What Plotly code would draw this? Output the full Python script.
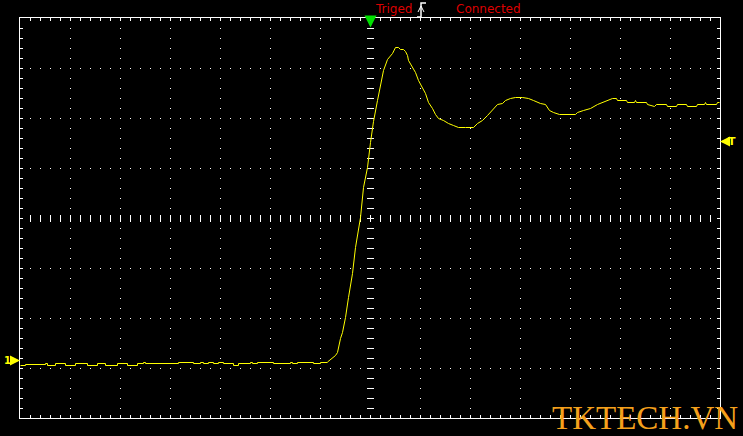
import plotly.graph_objects as go
import numpy as np

# Time in ns (50 ns/div), voltage in mV (50 mV/div); trigger at t=0
base_t = [-350, -345, -325, -323, -315, -305, -295, -283, -273, -265, -253, -243,
          -233, -227, -225, -192, -177, -170, -167, -162, -157, -152, -147, -137,
          -132, -120, -118, -113, -97, -80, -78, -73, -57, -50, -43]
base_v = [-147, -146, -145, -147, -145, -147, -145, -147, -145, -147, -145, -147,
          -145, -144, -145, -144, -145, -144, -145, -144, -145, -144, -145, -147,
          -145, -144, -145, -144, -145, -144, -145, -144, -145, -144, -144]

pulse_t = [-43, -40, -37, -35, -33, -32, -30, -28, -25, -22, -18, -15, -12, -10,
           -7, -3, 0, 3, 7, 10, 13, 17, 22, 25, 28, 30, 33, 35, 37, 38, 42, 45,
           48, 52, 55, 58, 62, 65, 68, 73, 78, 83, 88, 95, 103, 107, 112, 117,
           122, 127, 132, 135, 140, 145, 152, 158, 163, 170, 175, 177, 179, 183,
           189, 205, 207, 213, 220, 227, 232, 237, 242, 246, 247, 256, 257, 264,
           265, 266, 276, 277, 284, 286, 296, 297, 306, 307, 316, 317, 326, 327,
           334, 335, 336, 346, 347, 349]
pulse_v = [-143.5, -141, -139, -137, -134, -129, -120, -114, -99, -79, -55, -29,
           -9, 1, 31, 51, 76, 97, 118, 134, 148, 159, 165, 171, 171, 169, 169,
           167, 163, 158, 151, 146, 138, 131, 125, 116, 110, 104, 100, 98, 95,
           93, 91, 91, 91, 95, 98, 103, 108, 114, 115, 118, 120, 121, 121, 120,
           118, 115, 114, 111, 108, 106, 104, 104, 106, 108, 110, 114, 116, 118,
           120, 120, 118, 118, 116, 116, 118, 116, 116, 114, 112, 114, 114, 112,
           112, 114, 114, 112, 112, 114, 114, 116, 114, 114, 116, 116]

trigger_time = 0
trigger_level = 77
ch1_offset = -142

# half-unit offset puts the 1px grid on whole screen pixels (crisp dots)
X_RANGE = [-350.5, 349.5]
Y_RANGE = [-199.5, 200.5]
X_SPAN = [-350, 350]
Y_SPAN = [-200, 200]

W, H = 743, 436
ML, MR, MT, MB = 20, 23, 18, 18
PW, PH = W - ML - MR, H - MT - MB


def px(x):
    return (x - ML) / PW


def py(y):
    return (H - MB - y) / PH


fig = go.Figure()

# centre cross ticks
cy = np.arange(Y_SPAN[0] + 10, Y_SPAN[1], 10)
cx = np.arange(X_SPAN[0] + 10, X_SPAN[1], 10)
fig.add_trace(go.Scatter(x=np.zeros_like(cy), y=cy, mode="markers", hoverinfo="skip",
                         marker=dict(symbol="line-ew", size=5,
                                     line=dict(color="white", width=1))))
fig.add_trace(go.Scatter(x=cx, y=np.zeros_like(cx), mode="markers", hoverinfo="skip",
                         marker=dict(symbol="line-ns", size=5,
                                     line=dict(color="white", width=1))))

fig.add_trace(go.Scatter(x=base_t, y=base_v, mode="lines", line_shape="hv",
                         line=dict(color="#ffff00", width=1)))
fig.add_trace(go.Scatter(x=pulse_t, y=pulse_v, mode="lines",
                         line=dict(color="#ffff00", width=1)))

axis_common = dict(showticklabels=False, showgrid=True, gridcolor="white",
                   gridwidth=1, griddash="1px,9px", zeroline=False,
                   showline=True, linecolor="white", linewidth=1, mirror="allticks",
                   ticks="inside", ticklen=3, tickcolor="white", tickwidth=1,
                   minor=dict(dtick=10, ticks="inside", ticklen=3,
                              tickcolor="white", tickwidth=1, showgrid=False),
                   fixedrange=True)

fig.update_xaxes(range=X_RANGE, dtick=50, tick0=0, **axis_common)
fig.update_yaxes(range=Y_RANGE, dtick=50, tick0=0, **axis_common)

annotations = [
    # trigger time marker (green arrow at top)
    dict(x=trigger_time, y=Y_SPAN[1] - 9, xref="x", yref="y", text="",
         showarrow=True, ax=0, ay=-8, arrowhead=2, arrowsize=1.2, arrowwidth=2,
         arrowcolor="#00e000"),
    # channel 1 offset marker
    dict(x=0, y=ch1_offset, xref="paper", yref="y", text="",
         showarrow=True, ax=-9, ay=0, arrowhead=2, arrowsize=1, arrowwidth=2,
         arrowcolor="#ffff00"),
    dict(x=px(7), y=py(360), xref="paper", yref="paper", text="<b>1</b>",
         showarrow=False, font=dict(color="#ffff00", size=10, family="DejaVu Sans"),
         xanchor="center", yanchor="middle", borderpad=0),
    # trigger level marker
    dict(x=1, y=trigger_level, xref="paper", yref="y", text="",
         showarrow=True, ax=8, ay=0, arrowhead=2, arrowsize=1, arrowwidth=2,
         arrowcolor="#ffff00"),
    dict(x=px(731.5), y=py(141), xref="paper", yref="paper", text="<b>T</b>",
         showarrow=False, font=dict(color="#ffff00", size=11, family="DejaVu Sans"),
         xanchor="center", yanchor="middle", borderpad=0),
    dict(x=px(393.5), y=py(8.5), xref="paper", yref="paper", text="Triged",
         showarrow=False, font=dict(color="#dd0000", size=12, family="DejaVu Sans"),
         xanchor="center", yanchor="middle"),
    dict(x=px(488.5), y=py(8.5), xref="paper", yref="paper", text="Connected",
         showarrow=False, font=dict(color="#dd0000", size=12, family="DejaVu Sans"),
         xanchor="center", yanchor="middle"),
    dict(x=px(645), y=py(418), xref="paper", yref="paper", text="TKTECH.VN",
         showarrow=False, font=dict(color="#f5a11c", size=33, family="Liberation Serif"),
         xanchor="center", yanchor="middle"),
]

shapes = [
    dict(type="path", xref="paper", yref="paper",
         path=f"M {px(417)},{py(17)} L {px(421)},{py(17)} L {px(421)},{py(3)} L {px(426)},{py(3)}",
         line=dict(color="white", width=1.5)),
    dict(type="path", xref="paper", yref="paper",
         path=f"M {px(418)},{py(12)} L {px(421)},{py(6)} L {px(424)},{py(12)}",
         line=dict(color="white", width=1)),
]

fig.update_layout(width=W, height=H, margin=dict(l=ML, r=MR, t=MT, b=MB),
                  paper_bgcolor="black", plot_bgcolor="black", showlegend=False,
                  annotations=annotations, shapes=shapes)

fig.write_html("out.html", config={"displayModeBar": False},
               post_script="document.body.style.margin='0px';"
                           "document.body.style.overflow='hidden';"
                           "document.body.style.background='black';")
